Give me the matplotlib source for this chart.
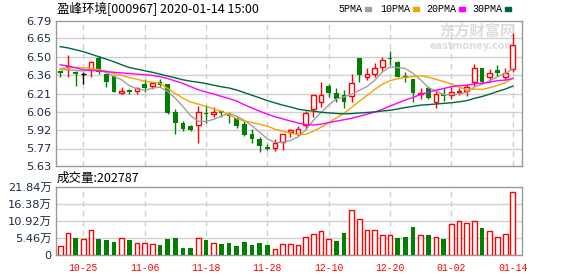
import matplotlib
matplotlib.use("Agg")
from matplotlib import pyplot as plt

# K-line data, 2019-10-22 .. 2020-01-14 (60 trading days)
opens = [6.39, 6.42, 6.385, 6.37, 6.396, 6.496, 6.366, 6.352, 6.212, 6.24,
         6.232, 6.288, 6.27, 6.30, 6.286, 6.062, 5.974, 5.95, 5.956, 6.058,
         6.044, 6.066, 6.046, 6.012, 5.966, 5.884, 5.846, 5.78, 5.776, 5.824,
         5.90, 5.888, 5.956, 6.084, 6.142, 6.272, 6.216, 6.198, 6.19, 6.494,
         6.34, 6.366, 6.42, 6.494, 6.462, 6.352, 6.328, 6.21, 6.256, 6.144,
         6.206, 6.20, 6.224, 6.23, 6.30, 6.41, 6.342, 6.40, 6.346, 6.41]
highs = [6.392, 6.52, 6.39, 6.385, 6.468, 6.512, 6.37, 6.355, 6.26, 6.25,
         6.264, 6.324, 6.304, 6.324, 6.29, 6.088, 5.992, 5.956, 6.11, 6.116,
         6.10, 6.078, 6.064, 6.024, 5.998, 5.924, 5.864, 5.804, 5.848, 5.884,
         5.928, 5.95, 6.072, 6.198, 6.30, 6.288, 6.256, 6.238, 6.366, 6.494,
         6.412, 6.452, 6.50, 6.55, 6.47, 6.38, 6.328, 6.252, 6.272, 6.23,
         6.254, 6.26, 6.254, 6.29, 6.45, 6.41, 6.41, 6.44, 6.416, 6.69]
lows = [6.342, 6.344, 6.27, 6.29, 6.34, 6.368, 6.26, 6.22, 6.204, 6.206,
        6.206, 6.224, 6.248, 6.264, 6.05, 5.886, 5.91, 5.912, 5.816, 5.972,
        6.024, 6.02, 5.976, 5.936, 5.87, 5.816, 5.74, 5.758, 5.752, 5.758,
        5.86, 5.872, 5.924, 6.024, 6.104, 6.18, 6.142, 6.096, 6.144, 6.30,
        6.32, 6.344, 6.382, 6.436, 6.344, 6.304, 6.144, 6.164, 6.17, 6.092,
        6.15, 6.17, 6.198, 6.19, 6.27, 6.29, 6.30, 6.35, 6.32, 6.384]
closes = [6.374, 6.43, 6.37, 6.37, 6.46, 6.38, 6.304, 6.224, 6.23, 6.226,
          6.252, 6.254, 6.292, 6.28, 6.056, 5.976, 5.928, 5.918, 6.062, 6.048,
          6.06, 6.052, 6.032, 5.952, 5.878, 5.846, 5.79, 5.77, 5.812, 5.884,
          5.916, 5.93, 6.054, 6.194, 6.198, 6.216, 6.168, 6.142, 6.292, 6.36,
          6.368, 6.412, 6.476, 6.484, 6.344, 6.336, 6.212, 6.216, 6.176, 6.204,
          6.19, 6.22, 6.228, 6.26, 6.41, 6.30, 6.37, 6.374, 6.378, 6.598]

ma5 = [6.400, 6.400, 6.395, 6.390, 6.401, 6.402, 6.377, 6.348, 6.320, 6.273,
       6.247, 6.237, 6.251, 6.261, 6.227, 6.172, 6.106, 6.032, 5.988, 5.986,
       6.003, 6.028, 6.051, 6.029, 5.995, 5.952, 5.900, 5.847, 5.819, 5.820,
       5.834, 5.862, 5.919, 5.995, 6.058, 6.118, 6.166, 6.184, 6.203, 6.236,
       6.266, 6.315, 6.383, 6.423, 6.417, 6.410, 6.370, 6.318, 6.257, 6.229,
       6.200, 6.201, 6.204, 6.220, 6.262, 6.284, 6.314, 6.343, 6.370, 6.406]
ma10 = [6.410, 6.415, 6.420, 6.415, 6.410, 6.400, 6.389, 6.369, 6.355, 6.337,
        6.325, 6.307, 6.300, 6.291, 6.250, 6.210, 6.172, 6.142, 6.125, 6.107,
        6.087, 6.067, 6.041, 6.008, 5.991, 5.978, 5.964, 5.949, 5.924, 5.908,
        5.893, 5.881, 5.883, 5.908, 5.940, 5.977, 6.014, 6.052, 6.100, 6.148,
        6.194, 6.242, 6.284, 6.313, 6.328, 6.340, 6.344, 6.352, 6.340, 6.323,
        6.305, 6.286, 6.261, 6.239, 6.245, 6.242, 6.257, 6.274, 6.295, 6.334]
ma20 = [6.440, 6.430, 6.415, 6.400, 6.395, 6.390, 6.385, 6.380, 6.375, 6.370,
        6.365, 6.360, 6.355, 6.345, 6.330, 6.310, 6.290, 6.265, 6.240, 6.222,
        6.206, 6.187, 6.170, 6.150, 6.120, 6.094, 6.068, 6.045, 6.024, 6.007,
        5.990, 5.974, 5.962, 5.958, 5.965, 5.977, 5.989, 6.000, 6.012, 6.028,
        6.044, 6.062, 6.084, 6.110, 6.134, 6.158, 6.179, 6.202, 6.220, 6.236,
        6.250, 6.264, 6.273, 6.276, 6.287, 6.291, 6.301, 6.313, 6.317, 6.329]
ma30 = [6.585, 6.575, 6.560, 6.545, 6.525, 6.505, 6.485, 6.464, 6.440, 6.418,
        6.405, 6.392, 6.380, 6.365, 6.350, 6.335, 6.320, 6.308, 6.300, 6.290,
        6.276, 6.264, 6.254, 6.238, 6.217, 6.196, 6.175, 6.153, 6.135, 6.117,
        6.102, 6.085, 6.075, 6.069, 6.060, 6.055, 6.050, 6.047, 6.049, 6.054,
        6.058, 6.063, 6.070, 6.076, 6.086, 6.098, 6.107, 6.117, 6.121, 6.126,
        6.131, 6.136, 6.143, 6.153, 6.171, 6.186, 6.205, 6.226, 6.245, 6.269]

# volume in 万
volumes = [2.87, 6.92, 5.43, 5.11, 7.87, 5.11, 4.79, 4.15, 5.32, 4.79,
           3.83, 3.83, 3.51, 3.19, 5.11, 5.43, 2.34, 2.34, 5.32, 4.79,
           3.72, 3.51, 3.83, 2.87, 4.15, 3.19, 3.83, 3.19, 1.92, 3.40,
           3.40, 3.09, 5.64, 6.60, 7.55, 5.00, 4.47, 7.02, 14.36, 11.49,
           8.19, 7.87, 6.28, 6.28, 5.43, 5.75, 8.94, 6.28, 6.28, 5.75,
           5.11, 10.11, 11.07, 10.43, 11.07, 8.62, 7.55, 5.75, 6.60, 20.28]
vol_up = ("rrgrrgggrg" "rrrgggggrg" "rgggggggrr"
          "rrrrrrggrr" "rrrrgggrgr" "grrrrgrrrr")

tick_pos = [3, 11, 19, 27, 35, 43, 51, 59]
tick_labels = ["10-25", "11-06", "11-18", "11-28", "12-10", "12-20", "01-02", "01-14"]
price_ticks = [5.63, 5.77, 5.92, 6.06, 6.21, 6.36, 6.50, 6.65, 6.79]
vol_ticks = [0, 5.46, 10.92, 16.38, 21.84]

RED = "#ff0000"
GREEN = "#008000"
GRID = "#d0d0d0"
FRAME = "#999999"
LABEL = "#1c2a4a"
cjk = ["Noto Sans CJK SC", "DejaVu Sans"]

fig = plt.figure(figsize=(5.78, 2.76), dpi=100)
ax = fig.add_axes([56 / 578, 110 / 276, 466 / 578, 145 / 276])
axv = fig.add_axes([56 / 578, 21 / 276, 466 / 578, 68 / 276])

x = list(range(len(closes)))
w = 0.62

# candles
for i in x:
    o, h, l, c = opens[i], highs[i], lows[i], closes[i]
    if abs(c - o) < 1e-9:
        col = "black"
    elif c > o:
        col = RED
    else:
        col = GREEN
    ax.vlines(i, l, h, color=col, lw=1, zorder=2)
    if col == "black":
        ax.hlines(o, i - w / 2, i + w / 2, color=col, lw=1, zorder=3)
    elif col == RED:
        ax.bar(i, c - o, bottom=o, width=w, facecolor="white", edgecolor=RED, lw=1, zorder=3)
    else:
        ax.bar(i, max(o - c, 0.004), bottom=c, width=w, color=GREEN, lw=0, zorder=3)

ax.plot(x, ma5, color="#a0a0a0", lw=1, zorder=4)
ax.plot(x, ma10, color="#f5a300", lw=1, zorder=4)
ax.plot(x, ma20, color="#ff00ff", lw=1, zorder=4)
ax.plot(x, ma30, color="#00663a", lw=1, zorder=4)

# volume bars
for i in x:
    if vol_up[i] == "r":
        axv.bar(i, volumes[i], width=w, facecolor="white", edgecolor=RED, lw=1, zorder=3)
    else:
        axv.bar(i, volumes[i], width=w, color=GREEN, lw=0, zorder=3)

for a in (ax, axv):
    a.set_xlim(-0.55, 60.2)
    for p in tick_pos:
        a.axvline(p, color=GRID, lw=1, ls=(0, (4, 3)), zorder=1)
    for s in a.spines.values():
        s.set_color(FRAME)
        s.set_linewidth(1)
    a.tick_params(length=0, colors=LABEL)

ax.set_ylim(5.63, 6.79)
ax.set_yticks(price_ticks)
ax.set_yticklabels([f"{t:.2f}" for t in price_ticks], fontsize=8.2, family="DejaVu Sans")
for t in price_ticks[1:-1]:
    ax.axhline(t, color=GRID, lw=1, zorder=1)
ax.set_xticks([])

axv.set_ylim(0, 21.84)
axv.set_yticks(vol_ticks)
axv.set_yticklabels(["0"] + [f"{t:.2f}万" for t in vol_ticks[1:]], fontsize=8.2,
                    family=["DejaVu Sans", "Noto Sans CJK SC"])
for t in vol_ticks[1:-1]:
    axv.axhline(t, color=GRID, lw=1, zorder=1)
axv.set_xticks(tick_pos)
axv.set_xticklabels(tick_labels, color=RED, fontsize=7, family="Liberation Mono")
axv.tick_params(axis="x", colors=RED, pad=6)
axv.tick_params(axis="y", pad=3)
ax.tick_params(axis="y", pad=3)

# header texts
fig.text(57 / 578, 1 - 9 / 276, "盈峰环境[000967] 2020-01-14 15:00", family=cjk,
         fontsize=9, va="center", ha="left", color="black")
fig.text(57 / 578, 1 - 178 / 276, "成交量:202787", family=cjk,
         fontsize=9, va="center", ha="left", color="black")

legend_items = [("5PMA", "#a0a0a0", 338), ("10PMA", "#f5a300", 380),
                ("20PMA", "#ff00ff", 426), ("30PMA", "#00663a", 472)]
for name, col, px in legend_items:
    fig.text(px / 578, 1 - 9 / 276, name, family="Liberation Mono", fontsize=7.2,
             va="center", ha="left", color="black")
    bx = px + len(name) * 6 + 3
    fig.patches.append(plt.Rectangle((bx / 578, 1 - 10.5 / 276), 6 / 578, 3 / 276,
                                     transform=fig.transFigure, color=col))

# watermark
ax.text(0.985, 0.93, "东方财富网", transform=ax.transAxes, ha="right", va="center",
        fontsize=11, fontweight="bold", color="#dddddd", family=cjk, zorder=0)
ax.text(0.985, 0.83, "eastmoney.com", transform=ax.transAxes, ha="right", va="center",
        fontsize=7, fontweight="bold", color="#dddddd", zorder=0)

fig.savefig("out.png", dpi=100, facecolor="white")
